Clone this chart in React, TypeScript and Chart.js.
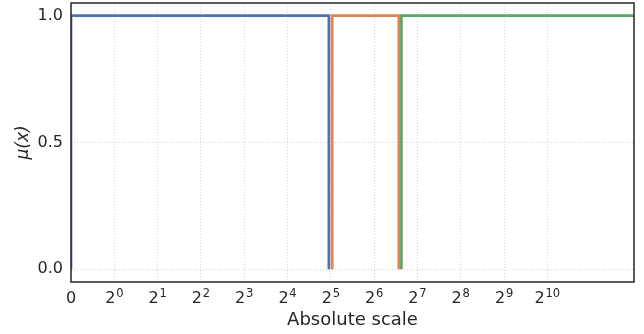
import React, { useEffect, useRef } from "react";
import { Chart, registerables } from "chart.js";

Chart.register(...registerables);

// Crisp membership functions on an absolute scale (breakpoints in raw units)
const blueX = [0, 0, 31, 31];
const blueY = [0, 1, 1, 0];
const orangeX = [32.7, 32.7, 95, 95];
const orangeY = [0, 1, 1, 0];
const greenX = [99, 99, 4096];
const greenY = [0, 1, 1];

const xTickExponents = [-1, 0, 1, 2, 3, 4, 5, 6, 7, 8, 9, 10]; // -1 stands for 0
const yTicks = [0, 0.5, 1.0];

const seriesColors = ["#4c72b0", "#dd8452", "#55a868"];

// symlog-like position: linear between 0 and 1, log2 above
const pos = (v: number) => (v <= 1 ? v - 1 : Math.log2(v));

const toPoints = (xs: number[], ys: number[]) =>
  xs.map((x, i) => ({ x: pos(x), y: ys[i] }));

const FONT = "DejaVu Sans";
const TEXT = "#262626";

export default function App() {
  const ref = useRef<HTMLCanvasElement | null>(null);

  useEffect(() => {
    if (!ref.current) return;
    const framePlugin = {
      id: "frame",
      afterDatasetsDraw(chart: any) {
        const { ctx, chartArea } = chart;
        ctx.save();
        ctx.strokeStyle = TEXT;
        ctx.lineWidth = 1.5;
        ctx.strokeRect(
          chartArea.left,
          chartArea.top,
          chartArea.right - chartArea.left,
          chartArea.bottom - chartArea.top
        );
        ctx.restore();
      },
    };
    // power-of-two tick labels with raised exponents
    const powerLabels = {
      id: "powerLabels",
      afterDraw(chart: any) {
        const { ctx, chartArea } = chart;
        const xs = chart.scales.x;
        ctx.save();
        ctx.fillStyle = TEXT;
        ctx.textBaseline = "alphabetic";
        ctx.textAlign = "left";
        const baseY = chartArea.bottom + 21;
        const expY = chartArea.bottom + 14.5;
        xTickExponents.forEach((e) => {
          const px = xs.getPixelForValue(e);
          ctx.font = `16px "${FONT}"`;
          if (e === -1) {
            const w = ctx.measureText("0").width;
            ctx.fillText("0", px - w / 2, baseY);
            return;
          }
          const w1 = ctx.measureText("2").width;
          ctx.font = `11.5px "${FONT}"`;
          const exp = String(e);
          const w2 = ctx.measureText(exp).width;
          const gap = 0.8;
          const start = px - (w1 + gap + w2) / 2;
          ctx.font = `16px "${FONT}"`;
          ctx.fillText("2", start, baseY);
          ctx.font = `11.5px "${FONT}"`;
          ctx.fillText(exp, start + w1 + gap, expY);
        });
        ctx.restore();
      },
    };
    const mk = (xs: number[], ys: number[], c: string) => ({
      data: toPoints(xs, ys),
      borderColor: c,
      backgroundColor: c,
      borderWidth: 2.7,
      pointRadius: 0,
      showLine: true,
      fill: false,
      tension: 0,
    });
    const chart = new Chart(ref.current, {
      type: "scatter",
      data: {
        datasets: [
          mk(blueX, blueY, seriesColors[0]),
          mk(orangeX, orangeY, seriesColors[1]),
          mk(greenX, greenY, seriesColors[2]),
        ],
      },
      options: {
        responsive: false,
        animation: false,
        devicePixelRatio: 1,
        layout: { padding: { top: 3, right: 10, left: 0, bottom: 0 } },
        plugins: { legend: { display: false }, tooltip: { enabled: false } },
        scales: {
          x: {
            type: "linear",
            min: -1,
            max: 12,
            afterBuildTicks: (s: any) => {
              s.ticks = xTickExponents.map((v) => ({ value: v }));
            },
            afterFit: (s: any) => {
              s.height = 52;
              s.paddingLeft = 0;
              s.paddingRight = 0;
            },
            border: { display: false, dash: [1, 2] },
            grid: { color: "#c4c4c4", lineWidth: 0.8, drawTicks: false },
            ticks: { display: false, autoSkip: false },
            title: {
              display: true,
              text: "Absolute scale",
              color: TEXT,
              font: { family: FONT, size: 18 },
              padding: { top: 0, bottom: 3 },
            },
          },
          y: {
            type: "linear",
            min: -0.05,
            max: 1.05,
            afterBuildTicks: (s: any) => {
              s.ticks = yTicks.map((v) => ({ value: v }));
            },
            afterFit: (s: any) => {
              s.width = 71;
              s.paddingTop = 0;
              s.paddingBottom = 0;
            },
            border: { display: false, dash: [1, 2] },
            grid: { color: "#c4c4c4", lineWidth: 0.8, drawTicks: false },
            ticks: {
              padding: 8,
              color: TEXT,
              font: { family: FONT, size: 16 },
              callback: (v: any) => Number(v).toFixed(1),
            },
            title: {
              display: true,
              text: "μ(x)",
              color: TEXT,
              font: { family: FONT, size: 17, style: "italic" },
              padding: { top: 13, bottom: 0 },
            },
          },
        },
      },
      plugins: [framePlugin, powerLabels],
    } as any);
    return () => chart.destroy();
  }, []);

  return (
    <div style={{ position: "fixed", left: 0, top: 0, width: 644, height: 334, background: "#fff" }}>
      <canvas ref={ref} width={644} height={334} style={{ display: "block" }} />
    </div>
  );
}
